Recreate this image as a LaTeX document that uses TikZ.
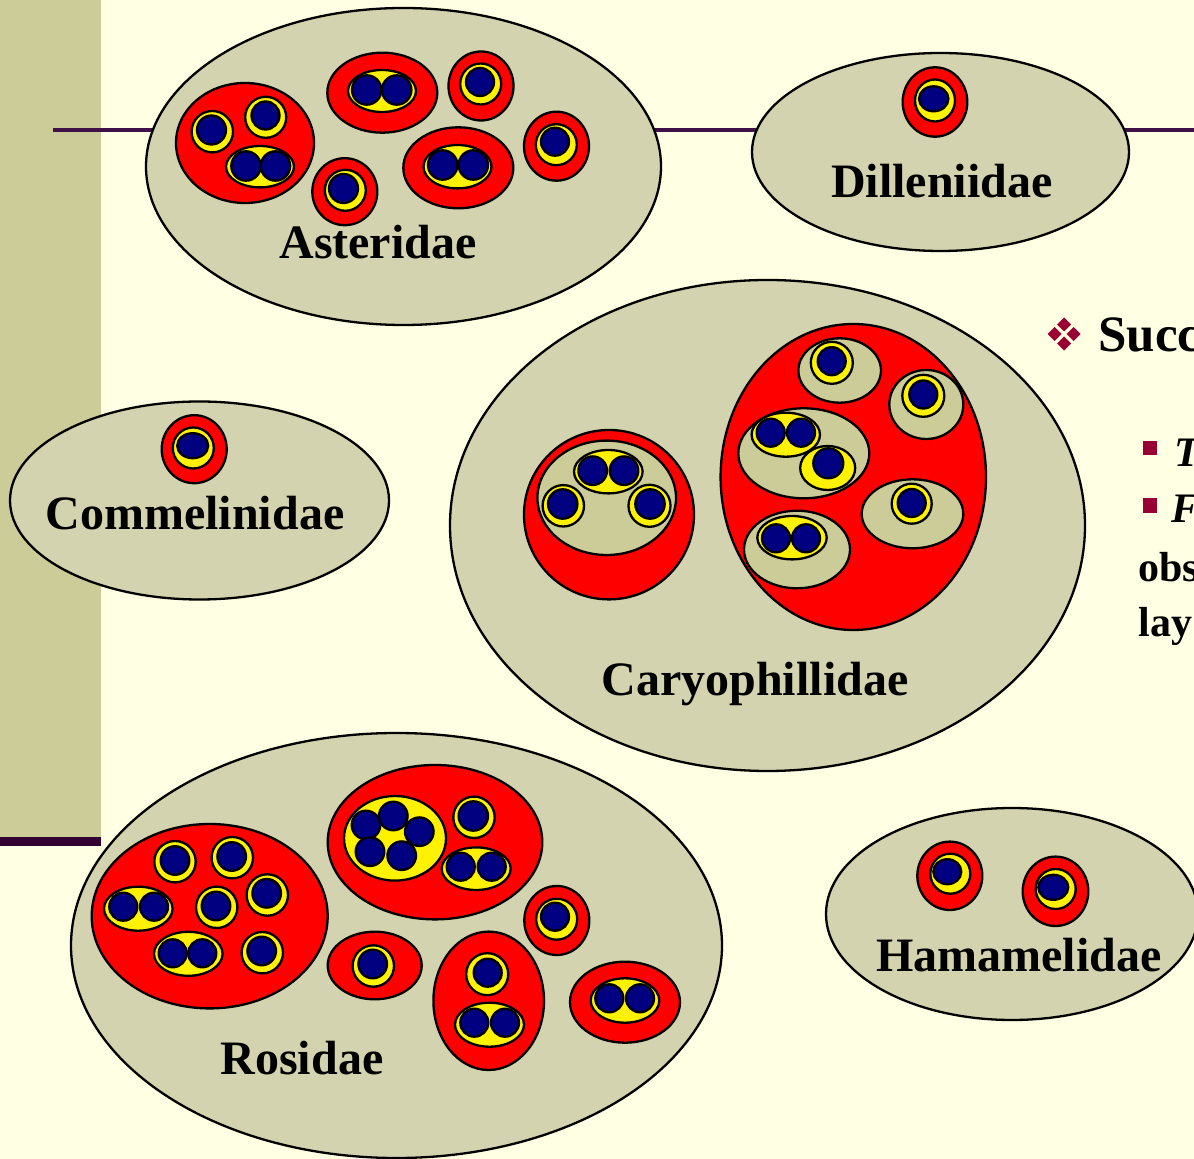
\documentclass[tikz,border=0pt]{standalone}
\usepackage{fontspec}
\setmainfont{Liberation Serif}
\definecolor{bgyel}{RGB}{255,255,227}
\definecolor{band}{RGB}{204,204,153}
\definecolor{barpur}{RGB}{51,0,51}
\definecolor{linepur}{RGB}{64,16,72}
\definecolor{clsfill}{RGB}{211,211,175}
\definecolor{grpfill}{RGB}{204,204,153}
\definecolor{navyc}{RGB}{0,0,128}
\definecolor{bulred}{RGB}{153,0,51}
\newcommand\Ov[5]{\path[#1] (#2,#3) ellipse [x radius={#4*0.5pt}, y radius={#5*0.5pt}];}
\newcommand\Gen[3]{\Ov{gen}{#1}{#2}{#3}{#3}}
\newcommand\Fam[6]{\Ov{fam}{#1}{#2}{#3}{#3}\Gen{#4}{#5}{#6}}
\tikzset{
  outl/.style={draw=black, line width=1.15pt},
  cls/.style={outl, fill=clsfill},
  grp/.style={outl, fill=grpfill},
  ord/.style={outl, fill=red},
  fam/.style={outl, fill=yellow},
  gen/.style={outl, fill=navyc},
  lab/.style={font=\bfseries\fontsize{24}{28}\selectfont, anchor=base, inner sep=0pt},
  side/.style={font=\bfseries\fontsize{21}{25}\selectfont, anchor=base west, inner sep=0pt},
  sideit/.style={side, font=\bfseries\itshape\fontsize{21}{25}\selectfont},
  bul/.style={fill=bulred, draw=none}
}
\begin{document}
\begin{tikzpicture}[x=0.5pt, y=-0.5pt]
\useasboundingbox (0,0) rectangle (1194,1159);
\clip (0,0) rectangle (1194,1159);
\fill[bgyel] (0,0) rectangle (1194,1159);
\fill[band] (0,0) rectangle (101,837);
\fill[barpur] (0,837) rectangle (101,846);
\draw[linepur, line width=2pt] (53,130.5) -- (1194,130.5);

% ---------- Asteridae ----------
\Ov{cls}{403.5}{166.5}{257.5}{158.5}
\Ov{ord}{245}{143}{69}{60}
\Fam{212.3}{131.7}{20.7}{211.5}{130}{14.5}
\Fam{265.7}{117.3}{20.5}{265.5}{115.5}{14}
\Ov{fam}{260}{166.7}{34}{20.7}\Gen{246}{166}{14.7}\Gen{275.5}{166}{14.7}
\Ov{ord}{382.3}{92.7}{55}{40}
\Ov{fam}{382}{91}{34}{21}\Gen{366.7}{90}{14.7}\Gen{396.7}{90}{14.7}
\Ov{ord}{481}{86}{32.5}{34.5}
\Fam{480.7}{84}{20.5}{480}{82}{14}
\Ov{ord}{344.8}{191.7}{32.5}{33.5}
\Fam{345.3}{190.3}{20.5}{343.5}{188.5}{14.5}
\Ov{ord}{458.3}{167.8}{55}{40.5}
\Ov{fam}{457.5}{166.7}{34}{21.7}\Gen{442.7}{165}{14.7}\Gen{473.3}{165}{14.7}
\Ov{ord}{556.5}{146.2}{32.5}{34.5}
\Fam{556.3}{144.7}{20.5}{555}{141.7}{14}
\node[lab] (asteridae) at (378,259) {Asteridae};

% ---------- Dilleniidae ----------
\Ov{cls}{940.5}{152}{188.5}{99}
\Ov{ord}{935}{102}{32.3}{34.7}
\Ov{fam}{935}{100.5}{20}{21}
\Ov{gen}{933.7}{98.8}{14.7}{12.5}
\node[lab] (dilleniidae) at (941.7,198) {Dilleniidae};

% ---------- Commelinidae ----------
\Ov{cls}{199.5}{500.5}{189.5}{99}
\Ov{ord}{194.2}{449.2}{32.5}{34}
\Ov{fam}{193.3}{448}{20.5}{20.5}
\Ov{gen}{192.7}{445.7}{15.5}{12.5}
\node[lab] (commelinidae) at (195,530) {Commelinidae};

% ---------- Caryophillidae ----------
\Ov{cls}{767.5}{525.5}{317.5}{245.5}
\Ov{ord}{609}{514.7}{85}{84.7}
\Ov{grp}{606.7}{497.8}{69.3}{57.2}
\Ov{fam}{608.3}{471.7}{34.3}{21.7}\Gen{592.7}{470.7}{14.3}\Gen{624}{470.7}{14.3}
\Fam{563.3}{505.8}{20.7}{562.7}{504}{14.7}
\Fam{649.5}{505.8}{21}{650}{504}{14.7}
\Ov{ord}{853.3}{477}{132.7}{153}
\Ov{grp}{839.7}{370.5}{41.3}{32.2}
\Fam{831.8}{362.8}{21}{831.7}{361.2}{14}
\Ov{grp}{926.3}{404.5}{37}{34.5}
\Fam{923.3}{395.8}{21}{923.3}{394.5}{14}
\Ov{grp}{803.8}{453.3}{65.5}{45}
\Ov{fam}{785.8}{434.7}{34.2}{22}\Gen{770.7}{432.7}{14}\Gen{801}{432.7}{14}
\Ov{fam}{827.7}{468}{27.5}{22}\Gen{828.3}{463.3}{15}
\Ov{grp}{912.5}{513.8}{50.8}{34.5}
\Fam{911.7}{503.7}{20}{911.7}{503}{14}
\Ov{grp}{797}{549.5}{53}{38.8}
\Ov{fam}{792}{537.7}{34.7}{21.7}\Gen{776}{538.3}{14}\Gen{806}{538.3}{14}
\node[lab] (caryophillidae) at (755,696) {Caryophillidae};

% ---------- Rosidae ----------
\Ov{cls}{396.5}{945.5}{325.5}{212.5}
\Ov{ord}{209.7}{916.2}{118}{92.2}
\Fam{175}{861.7}{20.7}{175}{860.5}{14.3}
\Fam{232.3}{857.7}{20.7}{231.7}{856.5}{14.3}
\Ov{fam}{138.3}{908.7}{34.3}{22}\Gen{123.3}{906.7}{14}\Gen{154}{906.7}{14}
\Fam{216.7}{907.3}{20.7}{216}{906}{14.3}
\Fam{267.3}{895}{20.7}{266.7}{893.3}{14.3}
\Ov{fam}{188.3}{953.8}{34.3}{22}\Gen{172.7}{953.3}{14}\Gen{202.3}{953.3}{14}
\Fam{262.3}{952.7}{20.7}{261.7}{951}{14.3}
\Ov{ord}{435}{842.2}{107.3}{77.2}
\Ov{fam}{395}{838.3}{51}{42.3}
\Gen{366}{825}{14.3}\Gen{393.3}{816}{14.3}\Gen{419.3}{831.7}{14.3}\Gen{370}{851.7}{14.3}\Gen{401.7}{855.7}{14.3}
\Fam{474}{817.3}{20.7}{473.3}{816}{14.7}
\Ov{fam}{476.2}{868.7}{34.5}{21.3}\Gen{460.7}{866.7}{14}\Gen{491.7}{866.7}{14}
\Ov{ord}{374.7}{965.5}{47}{33.8}
\Fam{373.3}{966}{20.7}{372.7}{964}{14.3}
\Ov{ord}{556.8}{920.5}{32.5}{34.5}
\Fam{556.7}{919.2}{20.5}{555}{916.7}{14}
\Ov{ord}{488.7}{1000.8}{55.3}{69.2}
\Fam{487.2}{974.2}{21}{487.7}{972.7}{14}
\Ov{fam}{489.5}{1024.7}{34.5}{22}\Gen{474.3}{1022.7}{14}\Gen{505}{1022.7}{14}
\Ov{ord}{625}{1002.2}{55}{40.5}
\Ov{fam}{625}{1000.5}{34.3}{22.2}\Gen{609.3}{998.3}{14}\Gen{640}{998.3}{14}
\node[lab] (rosidae) at (302,1074) {Rosidae};

% ---------- Hamamelidae ----------
\Ov{cls}{1012}{914}{186}{106}
\Ov{ord}{949.8}{875.8}{32.5}{34.2}
\Ov{fam}{950.3}{873.7}{20}{20}
\Ov{gen}{947.3}{871.7}{14}{12.5}
\Ov{ord}{1055.5}{891.3}{32.8}{34.7}
\Ov{fam}{1055.7}{889}{20}{20}
\Ov{gen}{1053.3}{887.3}{15}{12.5}
\node[lab] (hamamelidae) at (1019,971.5) {Hamamelidae};

% ---------- side text (cut off at the right edge) ----------
\foreach \dx/\dy in {0/-9.5, 0/9.5, -9.5/0, 9.5/0}
  \fill[bul] (1064+\dx,334+\dy-7) -- (1064+\dx+7,334+\dy) -- (1064+\dx,334+\dy+7) -- (1064+\dx-7,334+\dy) -- cycle;
\node[font=\bfseries\fontsize{25.5}{30}\selectfont, anchor=base west, inner sep=0pt] (succ) at (1098,351.5) {Succ};
\fill[bul] (1143,441) rectangle (1157,455);
\node[sideit] (tline) at (1174,466.7) {T};
\fill[bul] (1143,498) rectangle (1157,513);
\node[sideit] (fline) at (1171,523) {F};
\node[side] (obsline) at (1138,582) {obs};
\node[side] (layline) at (1138,637) {lay};
\end{tikzpicture}
\end{document}
